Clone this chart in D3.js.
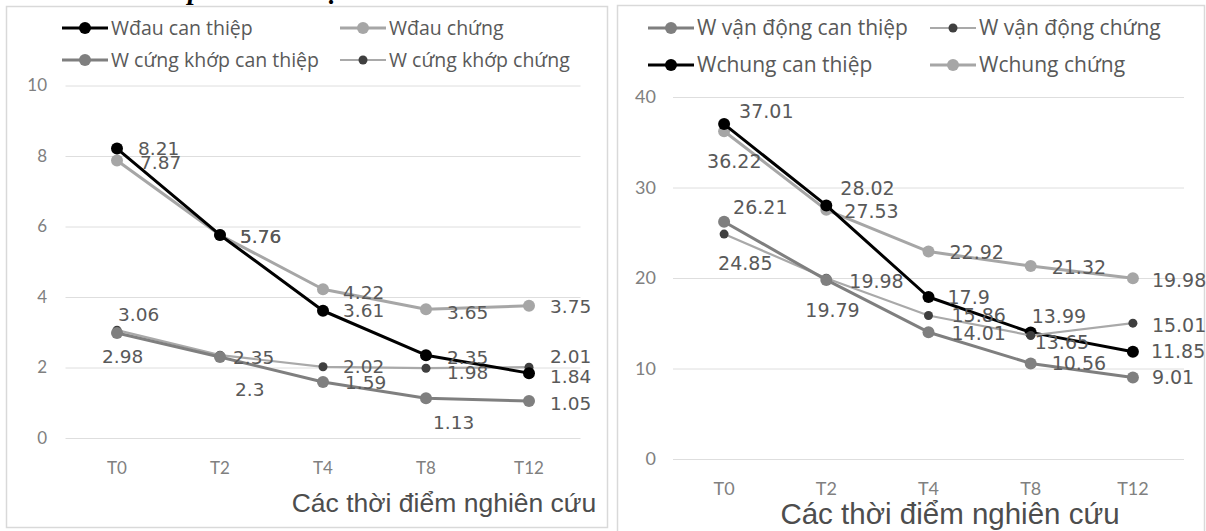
<!DOCTYPE html>
<html>
<head>
<meta charset="utf-8">
<script src="https://cdn.jsdelivr.net/npm/d3@7"></script>
<style>
  body { margin: 0; background: #fff; }
  svg { display: block; }
</style>
</head>
<body>
<script>
// time points and tick values
var times = ["T0", "T2", "T4", "T8", "T12"];
var leftTicks = [0, 2, 4, 6, 8, 10];
var rightTicks = [0, 10, 20, 30, 40];

// left chart series
var wDauCanThiep = [8.21, 5.76, 3.61, 2.35, 1.84];
var wDauChung = [7.87, 5.76, 4.22, 3.65, 3.75];
var wCungKhopCanThiep = [2.98, 2.3, 1.59, 1.13, 1.05];
var wCungKhopChung = [3.06, 2.35, 2.02, 1.98, 2.01];

// right chart series
var wVanDongCanThiep = [26.21, 19.79, 14.01, 10.56, 9.01];
var wVanDongChung = [24.85, 19.98, 15.86, 13.65, 15.01];
var wChungCanThiep = [37.01, 28.02, 17.9, 13.99, 11.85];
var wChungChung = [36.22, 27.53, 22.92, 21.32, 19.98];

var axisTitle = "Các thời điểm nghiên cứu";

//Width and height
var w = 1206;
var h = 531;

var svg = d3.select("body")
    .append("svg")
    .attr("width", w)
    .attr("height", h);

// line styles
var styles = {
  black: { stroke: "#000", sw: 3, fill: "#000", r: 6 },
  light: { stroke: "#a6a6a6", sw: 3, fill: "#a6a6a6", r: 6 },
  mid: { stroke: "#7f7f7f", sw: 3, fill: "#7f7f7f", r: 6 },
  dot: { stroke: "#a9a9a9", sw: 2.2, fill: "#3f3f3f", r: 4.5 }
};

// cut off caption fragments at the very top of the picture
svg.append("text").attr("x", 188).attr("y", -1)
   .style("font", "bold italic 28px 'Liberation Serif'").text("p");
svg.append("text").attr("x", 325).attr("y", -2)
   .style("font", "bold italic 28px 'Liberation Serif'").text("ụ");

function drawChart(cfg) {
  var g = svg.append("g");

  // frame
  g.append("rect")
    .attr("x", cfg.frame[0]).attr("y", cfg.frame[1])
    .attr("width", cfg.frame[2]).attr("height", cfg.frame[3])
    .style("fill", "#fff").style("stroke", "#d9d9d9").style("stroke-width", 1.5);

  var x = d3.scalePoint().domain(times).range(cfg.xRange).padding(0.5);
  var y = d3.scaleLinear().domain(cfg.yDomain).range(cfg.yRange);

  // gridlines
  g.selectAll(".grid").data(cfg.ticks).enter().append("line")
    .attr("x1", cfg.xRange[0]).attr("x2", cfg.xRange[1])
    .attr("y1", function (d) { return y(d) + 0.5; })
    .attr("y2", function (d) { return y(d) + 0.5; })
    .style("stroke", "#dedede").style("stroke-width", 1);

  // y tick labels
  g.selectAll(".ylab").data(cfg.ticks).enter().append("text")
    .attr("x", cfg.yLabelX)
    .attr("y", function (d) { return y(d); })
    .attr("dy", "0.35em")
    .attr("text-anchor", "end")
    .style("font", cfg.tickFont).style("fill", "#808080")
    .text(function (d) { return d; });

  // x tick labels
  g.selectAll(".xlab").data(times).enter().append("text")
    .attr("x", function (d) { return x(d); })
    .attr("y", cfg.xLabelY)
    .attr("dy", "0.35em")
    .attr("text-anchor", "middle")
    .style("font", cfg.tickFont).style("fill", "#808080")
    .text(function (d) { return d; });

  // axis title
  g.append("text")
    .attr("x", cfg.titlePos[0]).attr("y", cfg.titlePos[1])
    .attr("dy", "0.35em").attr("text-anchor", "middle")
    .style("font", cfg.titleFont).style("fill", "#4d4d4d")
    .text(axisTitle);

  var line = d3.line()
    .x(function (d, i) { return x(times[i]); })
    .y(function (d) { return y(d); });

  // lines (drawn in reverse so first series ends on top)
  cfg.series.slice().reverse().forEach(function (s) {
    var st = styles[s.style];
    g.append("path").datum(s.values)
      .attr("d", line)
      .style("fill", "none").style("stroke", st.stroke)
      .style("stroke-width", st.sw).style("stroke-linejoin", "round");
    g.selectAll(null).data(s.values).enter().append("circle")
      .attr("cx", function (d, i) { return x(times[i]); })
      .attr("cy", function (d) { return y(d); })
      .attr("r", st.r)
      .style("fill", st.fill);
  });

  // data labels
  cfg.series.forEach(function (s) {
    g.selectAll(null).data(s.values).enter().append("text")
      .attr("x", function (d, i) { return x(times[i]) + s.offsets[i][0]; })
      .attr("y", function (d, i) { return y(d) + s.offsets[i][1]; })
      .attr("dy", "0.35em")
      .style("font", cfg.labelFont).style("fill", "#595959")
      .text(function (d) { return d; });
  });

  // legend
  cfg.series.forEach(function (s, i) {
    var st = styles[s.style];
    var lx = cfg.legendX[i % 2], ly = cfg.legendY[Math.floor(i / 2)];
    var lg = g.append("g").attr("transform", "translate(" + lx + "," + ly + ")");
    lg.append("line").attr("x1", 0).attr("x2", 46).attr("y1", 0).attr("y2", 0)
      .style("stroke", st.stroke).style("stroke-width", st.sw);
    lg.append("circle").attr("cx", 23).attr("cy", 0).attr("r", st.r).style("fill", st.fill);
    lg.append("text").attr("x", 49).attr("dy", "0.35em")
      .style("font", cfg.legendFont).style("fill", "#595959")
      .text(s.name);
  });
}

drawChart({
  frame: [6.5, 6.5, 601, 521],
  xRange: [65.5, 580.5],
  yDomain: [0, 10],
  yRange: [438, 85.5],
  ticks: leftTicks,
  yLabelX: 47,
  xLabelY: 468,
  titlePos: [444, 503],
  tickFont: "17px Lato",
  labelFont: "18.5px 'DejaVu Sans'",
  legendFont: "19.5px 'Open Sans'",
  titleFont: "26.5px 'Liberation Sans'",
  legendX: [62, 340],
  legendY: [28, 60],
  series: [
    { name: "Wđau can thiệp", values: wDauCanThiep, style: "black",
      offsets: [[21, 0], [20, 2], [20, 0], [21, 2], [21, 3]] },
    { name: "Wđau chứng", values: wDauChung, style: "light",
      offsets: [[23, 2], [20, 2], [20, 3], [21, 3], [21, 1]] },
    { name: "W cứng khớp can thiệp", values: wCungKhopCanThiep, style: "mid",
      offsets: [[-15, 24], [15, 33], [22, 1], [7, 24], [21, 3]] },
    { name: "W cứng khớp chứng", values: wCungKhopChung, style: "dot",
      offsets: [[1, -16], [13, 2], [20, 0], [21, 4], [21, -11]] }
  ]
});

drawChart({
  frame: [617.5, 5.5, 587, 535],
  xRange: [673, 1184],
  yDomain: [0, 40],
  yRange: [459, 97],
  ticks: rightTicks,
  yLabelX: 656,
  xLabelY: 489,
  titlePos: [950, 514],
  tickFont: "18px Lato",
  labelFont: "19px 'DejaVu Sans'",
  legendFont: "21px 'Open Sans'",
  titleFont: "29.5px 'Liberation Sans'",
  legendX: [648, 930],
  legendY: [28, 65],
  series: [
    { name: "W vận động can thiệp", values: wVanDongCanThiep, style: "mid",
      offsets: [[9, -14], [-21, 30], [23, 1], [21, 0], [19, 0]] },
    { name: "W vận động chứng", values: wVanDongChung, style: "dot",
      offsets: [[-6, 29], [23, 3], [23, 0], [4, 7], [19, 2]] },
    { name: "Wchung can thiệp", values: wChungCanThiep, style: "black",
      offsets: [[15, -13], [14, -17], [19, 0], [1, -16], [18, 0]] },
    { name: "Wchung chứng", values: wChungChung, style: "light",
      offsets: [[-17, 30], [18, 1], [21, 1], [21, 1], [19, 2]] }
  ]
});
</script>
</body>
</html>
